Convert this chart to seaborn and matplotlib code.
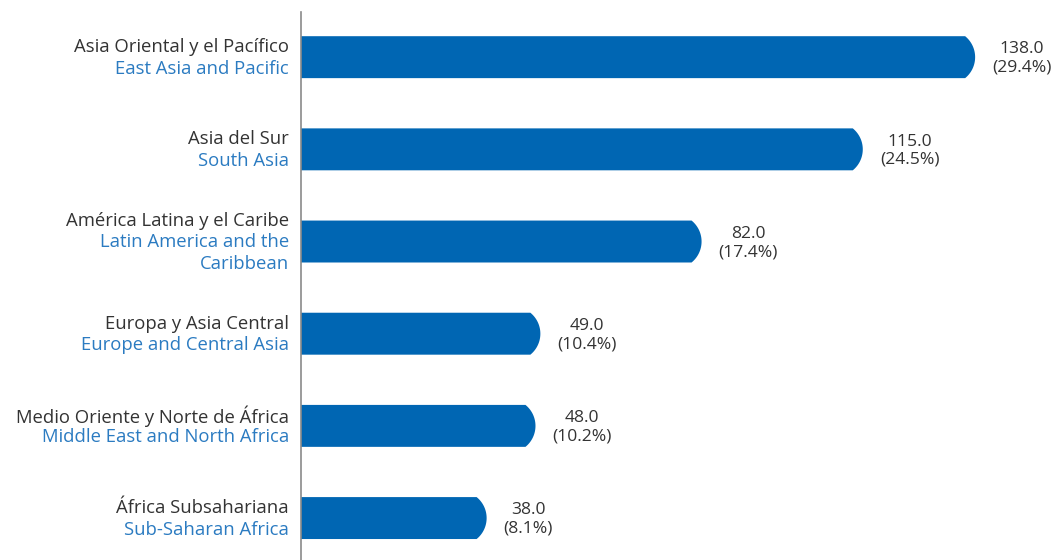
import matplotlib
matplotlib.use("Agg")
import matplotlib.pyplot as plt
import seaborn as sns
import pandas as pd
import numpy as np
from matplotlib.patches import Polygon

# data
regions_es = ["Asia Oriental y el Pacífico", "Asia del Sur", "América Latina y el Caribe",
              "Europa y Asia Central", "Medio Oriente y Norte de África", "África Subsahariana"]
regions_en = ["East Asia and Pacific", "South Asia", "Latin America and the\nCaribbean",
              "Europe and Central Asia", "Middle East and North Africa", "Sub-Saharan Africa"]
values = [138.0, 115.0, 82.0, 49.0, 48.0, 38.0]
shares = [29.4, 24.5, 17.4, 10.4, 10.2, 8.1]

df = pd.DataFrame({"region": regions_en, "value": values})

BLUE = "#0066B3"
LIGHTBLUE = "#2B7BC1"
DARK = "#333333"
FONT = "Open Sans"
FS = 13.3

sns.set_style("white")
plt.rcParams["font.family"] = [FONT, "DejaVu Sans"]

W, H = 1053, 560
fig = plt.figure(figsize=(W / 100, H / 100), dpi=100)
ax = fig.add_axes([301 / W, 0, 1 - 301 / W, 1 - 12 / H])

sns.barplot(data=df, x="value", y="region", color=BLUE, saturation=1,
            width=0.455, orient="h", ax=ax)

px_per_unit = 4.885
unit_per_row = 92.2  # px between bar centres
ax.set_xlim(0, (W - 301) / px_per_unit)
ax.set_ylim(5.455, -0.49)

# rounded bar ends: circular arc, radius ~27 px, bulge ~10 px
R = 27.0
for p in list(ax.patches):
    x0, y0, w, h = p.get_x(), p.get_y(), p.get_width(), p.get_height()
    x1 = x0 + w
    yc = y0 + h / 2
    half_px = h / 2 * unit_per_row
    phi_max = np.arcsin(min(half_px / R, 1.0))
    phi = np.linspace(-phi_max, phi_max, 40)
    ax_x = x1 - (R - R * np.cos(phi)) / px_per_unit
    ax_y = yc + R * np.sin(phi) / unit_per_row
    pts = [(x0, y0)] + list(zip(ax_x, ax_y)) + [(x0, y0 + h)]
    ax.add_patch(Polygon(pts, closed=True, facecolor=BLUE, edgecolor="none"))
    p.set_visible(False)

# category labels
pt = 0.72
line_px = 21.5
for i, (es, en) in enumerate(zip(regions_es, regions_en)):
    lines = [(es, DARK)] + [(t, LIGHTBLUE) for t in en.split("\n")]
    n = len(lines)
    for k, (t, c) in enumerate(lines):
        dy = -(k - (n - 1) / 2) * line_px * pt - 0.5
        ax.annotate(t, xy=(0, i), xycoords=("axes fraction", "data"),
                    xytext=(-12 * pt, dy), textcoords="offset points",
                    ha="right", va="center", color=c, fontsize=FS)

# value labels
for i, (v, s) in enumerate(zip(values, shares)):
    ax.annotate(f"{v:.1f}\n({s:.1f}%)", xy=(v, i), xytext=(17 * pt, -1),
                textcoords="offset points", ha="left", va="center",
                multialignment="center", color=DARK, fontsize=12.6, linespacing=1.2,
                annotation_clip=False)

ax.set_xticks([])
ax.set_yticks([])
ax.set_xlabel("")
ax.set_ylabel("")
for s in ["top", "right", "bottom"]:
    ax.spines[s].set_visible(False)
ax.spines["left"].set_color("#8a8a8a")
ax.spines["left"].set_linewidth(1.2)

fig.savefig("out.png", dpi=100)
